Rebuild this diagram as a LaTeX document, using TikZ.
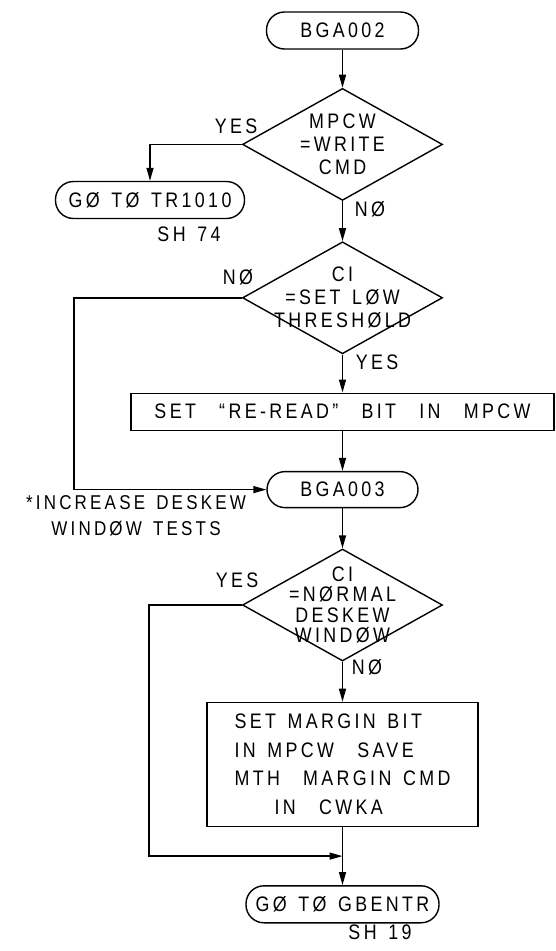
\documentclass[tikz,border=0pt]{standalone}
\usepackage{fontspec}
\setmainfont[FakeStretch=0.85,LetterSpace=16,WordSpace=1.4]{Liberation Sans}
\usetikzlibrary{shapes,arrows.meta,positioning}

\begin{document}
\begin{tikzpicture}[x=1pt, y=1pt, node distance=40pt, line width=1.4pt,
  every node/.style={font=\fontsize{21}{23}\selectfont},
  term/.style={rectangle, draw, rounded corners=18pt, minimum height=37pt, inner sep=0pt},
  decision/.style={diamond, draw, minimum width=200pt, minimum height=112pt, inner sep=-30pt, align=center},
  block/.style={rectangle, draw, inner sep=0pt},
  lbl/.style={inner sep=0pt},
  arrow/.style={->,>={Triangle[length=13pt,width=7pt]}}]

  \useasboundingbox (0,0) rectangle (556,-951);

  \node[term, minimum width=152pt] (bga002) at (342.5,-30.5) {BGA002};
  \node[decision, below=38pt of bga002] (wrcmd) {MPCW\\=WRITE\\CMD};
  \node[term, minimum width=189pt] (tr1010) at (150,-200) {GØ TØ TR1010};
  \node[decision, below=40pt of wrcmd] (lowthr) {CI\\=SET LØW\\THRESHØLD};
  \node[block, minimum width=423pt, minimum height=37pt, below=38pt of lowthr] (reread) {SET\ \ “RE-READ”\ \ BIT\ \ IN\ \ MPCW};
  \node[term, minimum width=151pt, minimum height=36pt, below=40pt of reread] (bga003) {BGA003};
  \node[decision, below=40pt of bga003, font=\fontsize{21}{20.5}\selectfont] (deskew) {CI\\=NØRMAL\\DESKEW\\WINDØW};
  \node[block, minimum width=271pt, minimum height=124pt, below=40pt of deskew, align=left,
    font=\fontsize{21}{28.5}\selectfont] (margin) {SET MARGIN BIT\\IN MPCW\ \ SAVE\\MTH\ \ MARGIN CMD\\\hspace{40pt}IN\ \ CWKA};
  \node[term, minimum width=193pt, below=58pt of margin] (gbentr) {GØ TØ GBENTR};
  \coordinate[below=29pt of margin.south] (join);

  % branch labels
  \node[lbl] (yes1) at (236,-126) {YES};
  \node[lbl] (no1) at (370,-209) {NØ};
  \node[lbl] (sh74) at (189,-234) {SH 74};
  \node[lbl] (no2) at (238,-277) {NØ};
  \node[lbl] (yes2) at (377,-362) {YES};
  \node[lbl, align=center, font=\fontsize{20}{26}\selectfont] (note) at (136,-516) {*INCREASE DESKEW\\WINDØW TESTS};
  \node[lbl] (yes3) at (237,-580) {YES};
  \node[lbl] (no3) at (367,-667) {NØ};
  \node[lbl] (sh19) at (380,-932) {SH 19};

  \draw[arrow] (bga002) -- (wrcmd);
  \draw[arrow] (wrcmd.west) -| (tr1010.north);
  \draw[arrow] (wrcmd) -- (lowthr);
  \draw[arrow] (lowthr.west) -- ++(-168,0) |- (bga003.west);
  \draw[arrow] (lowthr) -- (reread);
  \draw[arrow] (reread) -- (bga003);
  \draw[arrow] (bga003) -- (deskew);
  \draw[arrow] (deskew) -- (margin);
  \draw[arrow] (deskew.west) -- ++(-93,0) |- (join);
  \draw[arrow] (margin) -- (gbentr);

\end{tikzpicture}
\end{document}
